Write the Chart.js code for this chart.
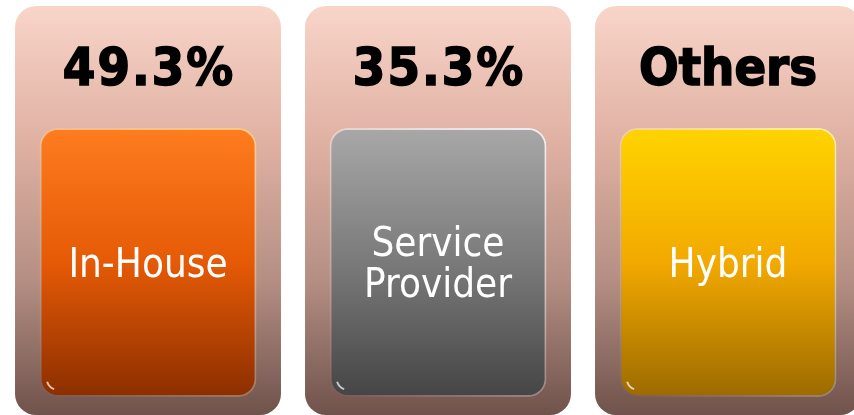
<!DOCTYPE html>
<html>
<head>
<meta charset="utf-8">
<script src="https://cdn.jsdelivr.net/npm/chart.js@4/dist/chart.umd.min.js"></script>
<style>
  html, body { margin: 0; padding: 0; background: #ffffff; overflow: hidden; width: 854px; height: 415px; }
  #wrap { position: absolute; left: 3px; top: 0; width: 870px; height: 415px; }
</style>
</head>
<body>
<div id="wrap"><canvas id="chart"></canvas></div>
<script>
const categories = ['In-House', 'Service Provider', 'Hybrid'];
const shareLabels = ['49.3%', '35.3%', 'Others'];
const shares = [49.3, 35.3, null];

// Layout (y axis runs in page pixels, top = 0)
const PAGE_H = 415;
const CARD_SPAN = [5, 416];
const BOX_SPAN = [128, 397];
const CARD_PCT = 0.924;
const BOX_PCT = 0.748;

const cardStops = ['#f9d5c9', '#dfb1a3', '#b58f84', '#6f524b'];
const boxStops = [
    ['#ff7c1f', '#e55a06', '#8c2e00'],
    ['#a8a8a8', '#7a7a7a', '#454545'],
    ['#ffd400', '#f2a900', '#9c6a00']
];
const boxRims = ['rgba(255,200,130,', 'rgba(235,240,245,', 'rgba(255,240,150,'];

function verticalGradient(chart, span, stops) {
    const y = chart.scales.y;
    const g = chart.ctx.createLinearGradient(0, y.getPixelForValue(span[0]), 0, y.getPixelForValue(span[1]));
    stops.forEach(function (c, i) { g.addColorStop(i / (stops.length - 1), c); });
    return g;
}

// rim light: bright on the top/right edges, fading towards bottom-left
function rimGradient(c) {
    const rim = boxRims[c.dataIndex];
    const chart = c.chart;
    if (!chart.chartArea) return rim + '0.8)';
    const xs = chart.scales.x, ys = chart.scales.y;
    const cx = xs.getPixelForValue(c.dataIndex);
    const half = BOX_PCT * xs.width / categories.length / 2;
    const y0 = ys.getPixelForValue(BOX_SPAN[1]), y1 = ys.getPixelForValue(BOX_SPAN[0]);
    if (![cx, half, y0, y1].every(Number.isFinite)) return rim + '0.8)';
    const g = chart.ctx.createLinearGradient(cx - half, y0, cx + half, y1);
    g.addColorStop(0, rim + '0)');
    g.addColorStop(0.5, rim + '0.35)');
    g.addColorStop(1, rim + '1)');
    return g;
}

const labelPlugin = {
    id: 'tileLabels',
    afterDatasetsDraw: function (chart) {
        const ctx = chart.ctx;
        const cards = chart.getDatasetMeta(0).data;
        const boxes = chart.getDatasetMeta(1).data;
        ctx.save();
        ctx.textAlign = 'center';
        ctx.textBaseline = 'alphabetic';
        categories.forEach(function (cat, i) {
            const card = cards[i], box = boxes[i];
            if (!card || !box) return;
            const top = Math.min(card.y, card.base);
            const boxTop = Math.min(box.y, box.base);
            const boxBottom = Math.max(box.y, box.base);
            const boxMid = (box.y + box.base) / 2;
            const left = box.x - box.width / 2;

            // small glint inside the bottom-left corner of the tile
            ctx.strokeStyle = 'rgba(255,255,255,0.7)';
            ctx.lineWidth = 2;
            ctx.beginPath();
            ctx.arc(left + 19, boxBottom - 19, 12, 0.62 * Math.PI, 0.9 * Math.PI);
            ctx.stroke();

            // headline value
            const numeric = /\d/.test(shareLabels[i]);
            ctx.fillStyle = '#000000';
            ctx.strokeStyle = '#000000';
            ctx.lineWidth = 1.6;
            ctx.font = 'bold 52px "DejaVu Sans Condensed", "DejaVu Sans", sans-serif';
            ctx.letterSpacing = numeric ? '2px' : '0px';
            const hy = (top + boxTop) / 2 + 18;
            const hx = card.x + (numeric ? 1 : 0);
            ctx.fillText(shareLabels[i], hx, hy);
            ctx.strokeText(shareLabels[i], hx, hy);
            ctx.letterSpacing = '0px';

            // category name inside the tile
            ctx.fillStyle = '#ffffff';
            ctx.font = '40px "DejaVu Sans Condensed", "DejaVu Sans", sans-serif';
            const words = cat.split(' ');
            const lineH = 41;
            const first = boxMid + 14 - (words.length - 1) * lineH / 2;
            words.forEach(function (w, k) {
                ctx.fillText(w, box.x, first + k * lineH);
            });
        });
        ctx.restore();
    }
};

new Chart(document.getElementById('chart'), {
    type: 'bar',
    data: {
        labels: categories,
        datasets: [
            {
                label: 'card',
                data: categories.map(function () { return CARD_SPAN; }),
                order: 2,
                grouped: false,
                barPercentage: CARD_PCT,
                categoryPercentage: 1,
                borderRadius: 22,
                borderSkipped: false,
                borderWidth: 1,
                borderColor: 'rgba(255,255,255,0.55)',
                backgroundColor: function (c) {
                    if (!c.chart.chartArea) return cardStops[1];
                    return verticalGradient(c.chart, CARD_SPAN, cardStops);
                }
            },
            {
                label: 'share',
                data: categories.map(function () { return BOX_SPAN; }),
                order: 1,
                grouped: false,
                barPercentage: BOX_PCT,
                categoryPercentage: 1,
                borderRadius: 18,
                borderSkipped: false,
                borderWidth: 2,
                borderColor: rimGradient,
                backgroundColor: function (c) {
                    if (!c.chart.chartArea) return boxStops[c.dataIndex][0];
                    return verticalGradient(c.chart, BOX_SPAN, boxStops[c.dataIndex]);
                }
            }
        ]
    },
    options: {
        responsive: true,
        maintainAspectRatio: false,
        animation: false,
        layout: { padding: 0 },
        plugins: {
            legend: { display: false },
            tooltip: { enabled: false }
        },
        scales: {
            x: { display: false, offset: true, grid: { display: false } },
            y: { display: false, min: 0, max: PAGE_H, reverse: true }
        }
    },
    plugins: [labelPlugin]
});
</script>
</body>
</html>
